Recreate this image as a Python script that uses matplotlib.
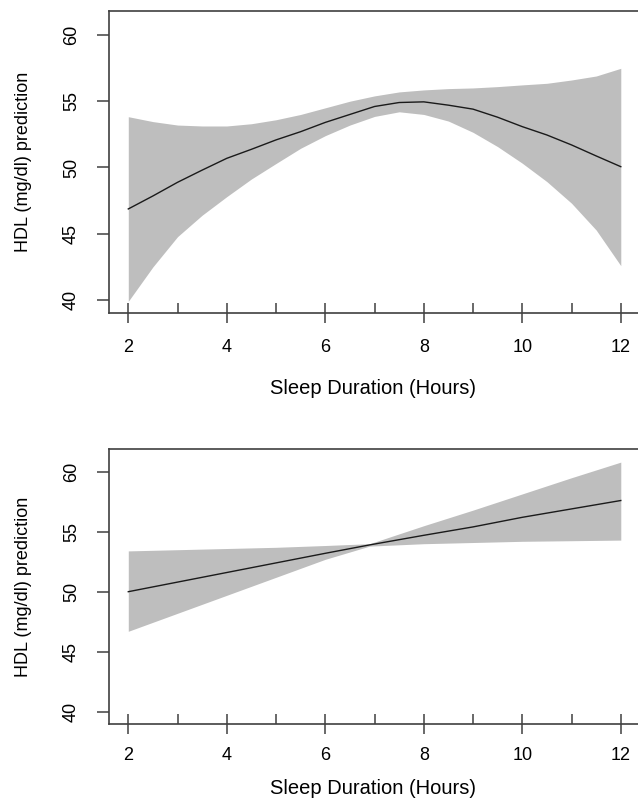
import numpy as np
import matplotlib
matplotlib.use('Agg')
import matplotlib.pyplot as plt

plt.rcParams['font.family'] = ['Liberation Sans', 'DejaVu Sans']

# Верхняя панель: сплайн с доверительным интервалом
hours_top = [2, 2.5, 3, 3.5, 4, 4.5, 5, 5.5, 6, 6.5, 7, 7.5,
             8, 8.5, 9, 9.5, 10, 10.5, 11, 11.5, 12]
hdl_top = [46.87, 47.85, 48.88, 49.8, 50.69, 51.37, 52.08, 52.7, 53.4, 54.0, 54.6, 54.9,
           54.95, 54.7, 54.4, 53.79, 53.08, 52.45, 51.7, 50.87, 50.06]
upper_top = [53.83, 53.46, 53.2, 53.13, 53.13, 53.3, 53.6, 54.0, 54.5, 55.0, 55.4, 55.7,
             55.85, 55.95, 56.0, 56.1, 56.23, 56.35, 56.6, 56.9, 57.48]
lower_top = [39.9, 42.5, 44.78, 46.4, 47.8, 49.13, 50.3, 51.45, 52.4, 53.2, 53.85, 54.2,
             54.0, 53.5, 52.65, 51.57, 50.32, 48.93, 47.3, 45.28, 42.59]

# Нижняя панель: линейная модель
hours_bot = [2, 3, 4, 5, 6, 6.9, 8, 9, 10, 11, 12]
hdl_bot = [50.0, 50.8, 51.6, 52.4, 53.2, 53.9, 54.7, 55.4, 56.2, 56.9, 57.6]
upper_bot = [53.4, 53.5, 53.6, 53.7, 53.85, 54.0, 55.5, 56.8, 58.15, 59.5, 60.8]
lower_bot = [46.7, 48.2, 49.7, 51.2, 52.7, 53.8, 54.0, 54.1, 54.2, 54.25, 54.3]

x_major = [2, 4, 6, 8, 10, 12]
x_minor = [3, 5, 7, 9, 11]
y_ticks = [40, 45, 50, 55, 60]

fig = plt.figure(figsize=(6.38, 8.02), dpi=100)

panels = [
    # (позиция осей, данные, пределы y, отступы подписей)
    ([0.1702, 0.6094, 0.8337, 0.3773], hours_top, hdl_top, upper_top, lower_top, (39.0, 61.83), 11.5, -0.250),
    ([0.1702, 0.0969, 0.8337, 0.3429], hours_bot, hdl_bot, upper_bot, lower_bot, (38.95, 61.87), 9.0, -0.232),
]

axis_color = '#404040'

for pos, xs, ys, up, lo, ylim, xpad, xlab_y in panels:
    ax = fig.add_axes(pos)
    ax.fill_between(xs, lo, up, color='#BEBEBE', lw=0)
    ax.plot(xs, ys, color='#1a1a1a', lw=1.0)

    ax.set_xlim(1.6, 12.4)
    ax.set_ylim(*ylim)

    # Рамка: слева, сверху и ось x снизу
    ax.spines['right'].set_visible(False)
    for side in ['left', 'top', 'bottom']:
        ax.spines[side].set_color(axis_color)
        ax.spines[side].set_linewidth(1.2)

    ax.set_xticks(x_major)
    ax.set_xticks(x_minor, minor=True)
    ax.set_yticks(y_ticks)
    ax.tick_params(axis='x', which='major', direction='inout', length=14.4, width=1.1,
                   color=axis_color, labelsize=13, pad=xpad)
    ax.tick_params(axis='x', which='minor', direction='in', length=7.2, width=1.1,
                   color=axis_color)
    ax.tick_params(axis='y', which='major', direction='out', length=8.6, width=1.1,
                   color=axis_color, labelsize=13, pad=12.0, labelrotation=90)
    for lbl in ax.get_yticklabels():
        lbl.set_va('center')

    ax.set_xlabel('Sleep Duration (Hours)', fontsize=14.5)
    ax.xaxis.label.set_va('center')
    ax.xaxis.set_label_coords(0.4972, xlab_y)

    ax.set_ylabel('HDL (mg/dl) prediction', fontsize=13)
    ax.yaxis.label.set_va('center')
    ax.yaxis.set_label_coords(-0.16, 0.5)

fig.savefig('out.png', dpi=100)
